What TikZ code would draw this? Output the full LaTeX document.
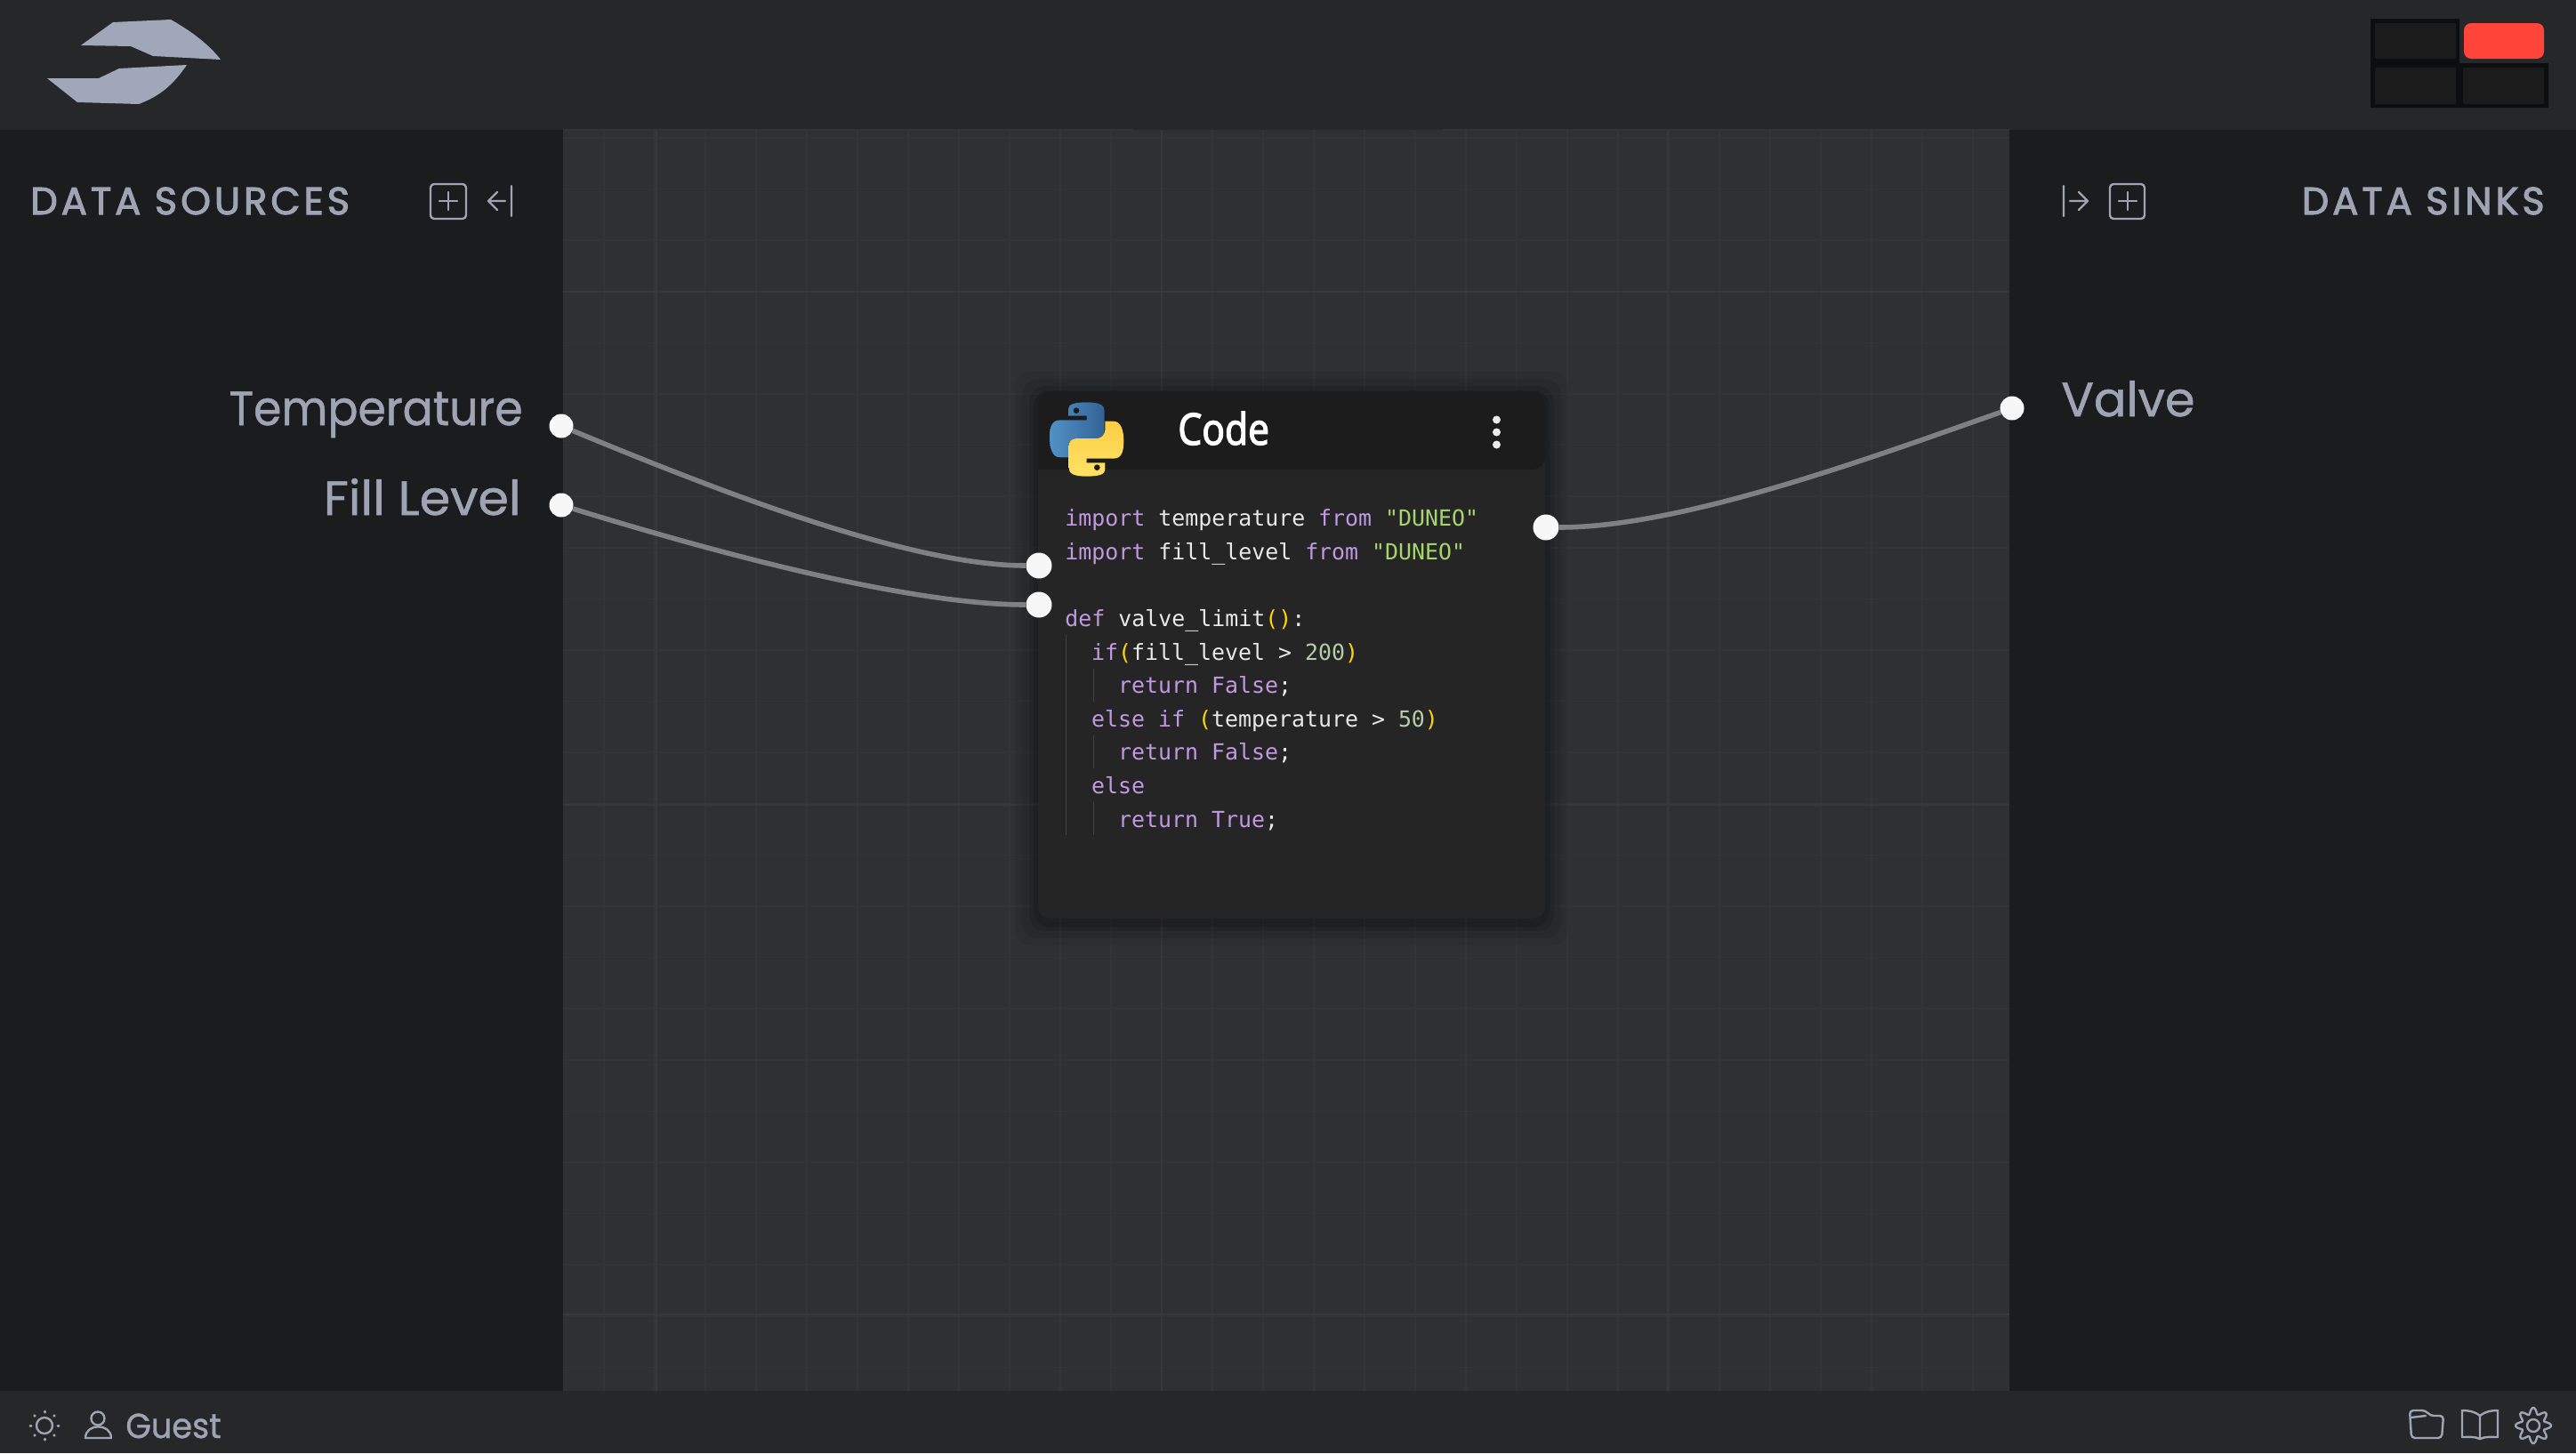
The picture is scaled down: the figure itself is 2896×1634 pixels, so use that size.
\documentclass[tikz,border=0pt]{standalone}
\usepackage{fontspec}
\usepackage{tikz}
\setmainfont{Poppins}
\newfontfamily\labelfont[FakeBold=1]{Poppins}
\newfontfamily\headfont[FakeBold=2.5,LetterSpace=9.5]{Poppins}
\newfontfamily\titlefont[FakeBold=3]{Open Sans}
\newfontfamily\codefont{DejaVu Sans Mono}
\definecolor{barback}{RGB}{37,39,41}
\definecolor{sideback}{RGB}{27,28,29}
\definecolor{canvasback}{RGB}{46,48,50}
\definecolor{gridline}{RGB}{50,52,54}
\definecolor{gridmajor}{RGB}{54,56,58}
\definecolor{labelgrey}{RGB}{158,164,180}
\definecolor{logogrey}{RGB}{160,167,184}
\definecolor{wiregrey}{RGB}{128,128,128}
\definecolor{cellback}{RGB}{27,27,28}
\definecolor{cellrim}{RGB}{13,14,15}
\definecolor{alarmred}{RGB}{255,69,58}
\definecolor{boxhead}{RGB}{28,28,28}
\definecolor{boxbody}{RGB}{37,37,37}
\definecolor{codekw}{RGB}{192,153,224}
\definecolor{codestr}{RGB}{165,214,110}
\definecolor{codenum}{RGB}{181,206,168}
\definecolor{codepar}{RGB}{255,215,0}
\definecolor{codetext}{RGB}{232,232,232}
\definecolor{codeguide}{RGB}{66,66,66}
\definecolor{pyblueA}{RGB}{82,145,196}
\definecolor{pyblueB}{RGB}{50,100,150}
\definecolor{pyyellowA}{RGB}{255,226,100}
\definecolor{pyyellowB}{RGB}{250,205,70}
\newcommand{\ckw}[1]{\textcolor{codekw}{#1}}
\newcommand{\cstr}[1]{\textcolor{codestr}{#1}}
\newcommand{\cnum}[1]{\textcolor{codenum}{#1}}
\newcommand{\cpar}[1]{\textcolor{codepar}{#1}}
\newcommand{\pysnake}{(78,68) -- (78,45) .. controls (78,30) and (95,22) .. (140,22) .. controls (185,22) and (200,32) .. (200,50) -- (200,125) .. controls (200,140) and (190,150) .. (175,150) -- (110,150) .. controls (92,150) and (80,160) .. (78,178) -- (78,208) -- (50,208) .. controls (25,208) and (15,180) .. (15,140) .. controls (15,100) and (25,82) .. (50,82) -- (140,82) -- (140,68) -- cycle}
\tikzset{
  portdot/.style={circle,fill=white!97!black,inner sep=0pt,minimum size=13.5pt},
  wire/.style={draw=wiregrey,line width=2.8pt},
  sidelabel/.style={text=labelgrey,inner sep=0pt,font=\labelfont\fontsize{27}{27}\selectfont},
  headlabel/.style={text=labelgrey,inner sep=0pt,font=\headfont\fontsize{21.5}{22}\selectfont},
  codeline/.style={anchor=base west,inner sep=0pt,text=codetext,font=\codefont\fontsize{12.45}{13}\selectfont},
  iconline/.style={draw=labelgrey,line width=1.2pt,line cap=round,line join=round},
  rimcell/.style={fill=cellback,rounded corners=0.5pt},
}
\begin{document}
\begin{tikzpicture}[x=0.5pt,y=-0.5pt]
\useasboundingbox (0,0) rectangle (2896,1634);
\fill [sideback] (0,0) rectangle (2896,1634);
\fill [canvasback] (633,146) rectangle (2259,1564);
\foreach \gx in {0,...,27}
  \draw [gridline,line width=0.8pt] ({679+57*\gx},146) -- ({679+57*\gx},1564);
\foreach \gy in {0,...,24}
  \draw [gridline,line width=0.8pt] (633,{155+57.6*\gy}) -- (2259,{155+57.6*\gy});
\foreach \gx in {738,1306,1875}
  \draw [gridmajor,line width=1.3pt] (\gx,146) -- (\gx,1564);
\foreach \gy in {328,905,1478}
  \draw [gridmajor,line width=1.3pt] (633,\gy) -- (2259,\gy);
\fill [barback] (0,0) rectangle (2896,146);
\fill [barback] (0,1564) rectangle (2896,1634);
\draw [black!80,line width=0.6pt] (633,146) -- (1273,146);
\draw [black!80,line width=0.6pt] (1622,146) -- (2259,146);
\fill [logogrey] (91,51) -- (127,25) -- (192,22) .. controls (215,35) and (235,50) .. (248,67) -- (172,63) -- (147,52) -- cycle;
\fill [logogrey] (53,88) -- (111,88) -- (134,77) -- (210,73) .. controls (195,95) and (180,108) .. (156,117) -- (87,115) -- cycle;
\fill [cellrim] (2665,21) -- (2765,21) -- (2765,71) -- (2865,71) -- (2865,121) -- (2665,121) -- cycle;
\fill [rimcell] (2670,26) rectangle (2761,66);
\fill [alarmred,rounded corners=4pt] (2770,26) rectangle (2860,66);
\fill [rimcell] (2670,76) rectangle (2761,117);
\fill [rimcell] (2769,76) rectangle (2860,117);
\node [headlabel,anchor=base west] (sourcestitle) at (34,241) {DATA SOURCES};
\node [headlabel,anchor=base east] (sinkstitle) at (2861,241) {DATA SINKS};
\draw [iconline,rounded corners=2pt] (484,207) rectangle (524,246);
\draw [iconline] (504,216) -- (504,236) (494,226) -- (514,226);
\draw [iconline] (575,209) -- (575,243) (568,226) -- (549,226) (559,216) -- (549,226) -- (559,236);
\draw [iconline,rounded corners=2pt] (2372,207) rectangle (2411,246);
\draw [iconline] (2392,216) -- (2392,236) (2382,226) -- (2402,226);
\draw [iconline] (2320,209) -- (2320,243) (2327,226) -- (2347,226) (2337,216) -- (2347,226) -- (2337,236);
\node [sidelabel,anchor=base east,xscale=0.935] (templabel) at (588,478) {Temperature};
\node [sidelabel,anchor=base east,xscale=1.03] (filllabel) at (586,579) {Fill Level};
\node [sidelabel,anchor=base west] (valvelabel) at (2317,468) {Valve};
\foreach \sh/\op in {26/0.06,18/0.08,10/0.1,5/0.12}
  \fill [black,opacity=\op,rounded corners=9pt] ({1167-\sh},{440-\sh+4}) rectangle ({1737+\sh},{1033+\sh+4});
\fill [boxbody,rounded corners=7pt] (1167,440) rectangle (1737,1033);
\fill [boxhead,rounded corners=7pt] (1167,528) -- (1167,440) -- (1737,440) -- (1737,528) [sharp corners] -- cycle;
\begin{scope}[shift={(1175,445)},scale=0.3333]
  \fill [left color=pyblueA,right color=pyblueB] \pysnake;
  \begin{scope}[rotate around={180:(140,147)}]
    \fill [top color=pyyellowB,bottom color=pyyellowA] \pysnake;
  \end{scope}
  \fill [boxhead] (105,50) circle [radius=10];
  \fill [boxhead] (175,242) circle [radius=10];
\end{scope}
\node [anchor=base west,inner sep=0pt,text=white,xscale=0.87,font=\titlefont\fontsize{24.5}{25}\selectfont] (codetitle) at (1324,500) {Code};
\foreach \dy in {472,486,500}
  \fill [white!92!black] (1682.5,\dy) circle [radius=4.5];
\node [codeline] (lineA) at (1197,591.5) {\ckw{import} temperature \ckw{from} \cstr{"DUNEO"}};
\node [codeline] (lineB) at (1197,629.1) {\ckw{import} fill\_level \ckw{from} \cstr{"DUNEO"}};
\node [codeline] (lineC) at (1197,704.5) {\ckw{def} valve\_limit\cpar{()}:};
\node [codeline] (lineD) at (1226.8,742.1) {\ckw{if}\cpar{(}fill\_level > \cnum{200}\cpar{)}};
\node [codeline] (lineE) at (1256.7,779.7) {\ckw{return False};};
\node [codeline] (lineF) at (1226.8,817.3) {\ckw{else if} \cpar{(}temperature > \cnum{50}\cpar{)}};
\node [codeline] (lineG) at (1256.7,854.9) {\ckw{return False};};
\node [codeline] (lineH) at (1226.8,892.5) {\ckw{else}};
\node [codeline] (lineI) at (1256.7,930.1) {\ckw{return True};};
\draw [codeguide,line width=0.5pt] (1198,714) -- (1198,939);
\draw [codeguide,line width=0.5pt] (1229,752) -- (1229,789);
\draw [codeguide,line width=0.5pt] (1229,827) -- (1229,864);
\draw [codeguide,line width=0.5pt] (1229,902) -- (1229,939);
\node [portdot] (tempport) at (631,479) {};
\node [portdot] (fillport) at (631,568) {};
\node [portdot] (valveport) at (2262,459) {};
\node [portdot,minimum size=14.5pt] (tempin) at (1168,636) {};
\node [portdot,minimum size=14.5pt] (fillin) at (1168,680) {};
\node [portdot,minimum size=14.5pt] (codeout) at (1738,593) {};
\draw [wire] (tempport) .. controls (800,549) and (1020,636) .. (tempin);
\draw [wire] (fillport) .. controls (800,620) and (1020,680) .. (fillin);
\draw [wire] (codeout) .. controls (1890,593) and (2100,516) .. (valveport);
\draw [iconline] (50,1603) circle [radius=9];
\foreach \a in {0,45,...,315}
  \draw [iconline,line width=1.5pt] ({50+15*cos(\a)},{1603+15*sin(\a)}) -- ({50+16*cos(\a)},{1603+16*sin(\a)});
\draw [iconline] (110,1595) circle [radius=7.5];
\draw [iconline] (96,1617) .. controls (96,1600) and (125,1600) .. (125,1617) -- cycle;
\node [anchor=base west,inner sep=0pt,text=labelgrey,xscale=0.94,font=\labelfont\fontsize{19.5}{20}\selectfont] (guestlabel) at (141,1617) {Guest};
\draw [iconline,rounded corners=2pt] (2711,1617) -- (2709,1586) -- (2727,1586) -- (2732,1592) -- (2747,1592) -- (2745,1617) -- cycle;
\draw [iconline] (2710,1594) -- (2727,1592);
\draw [iconline] (2788,1592) .. controls (2782,1587) and (2775,1586) .. (2768,1586) -- (2768,1616) .. controls (2775,1616) and (2782,1615) .. (2788,1618) .. controls (2794,1615) and (2801,1616) .. (2808,1616) -- (2808,1586) .. controls (2801,1586) and (2794,1587) .. (2788,1592) -- cycle (2788,1592) -- (2788,1618);
\draw [iconline] plot [domain=0:360,samples=97,smooth] ({2848+(16.5+3.5*cos(8*\x))*cos(\x)},{1603+(16.5+3.5*cos(8*\x))*sin(\x)});
\draw [iconline] (2848,1603) circle [radius=7];
\end{tikzpicture}
\end{document}
